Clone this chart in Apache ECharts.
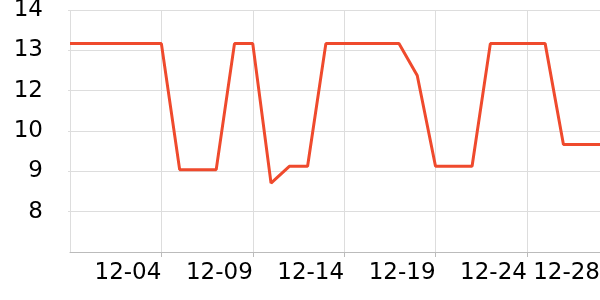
<!DOCTYPE html>
<html>
<head>
<meta charset="utf-8">
<script src="https://cdn.jsdelivr.net/npm/echarts@6/dist/echarts.min.js"></script>
<style>html,body{margin:0;padding:0;background:#fff;}#c{width:600px;height:300px;}</style>
</head>
<body>
<div id="c"></div>
<script>
const categories = ['11-29','11-30','12-01','12-02','12-03','12-04','12-05','12-06','12-07','12-08',
  '12-09','12-10','12-11','12-12','12-13','12-14','12-15','12-16','12-17','12-18',
  '12-19','12-20','12-21','12-22','12-23','12-24','12-25','12-26','12-27','12-28'];
const values = [13,13,13,13,13,13, 9.25,9.25,9.25, 13,13, 8.85, 9.35,9.35,
  13,13,13,13,13, 12.05, 9.35,9.35,9.35, 13,13,13,13, 10,10,10];
const yMin = 6.8, yMax = 14, yStep = 1.2;

const chart = echarts.init(document.getElementById('c'));
chart.setOption({
  animation: false,
  grid: {left: 70, right: 0, top: 10, bottom: 48, containLabel: false, outerBoundsMode: 'none'},
  xAxis: {
    type: 'category',
    data: categories,
    boundaryGap: false,
    axisLine: {show: true, lineStyle: {color: '#bbbbbb', width: 1}},
    axisTick: {show: true, interval: 4, length: 5, lineStyle: {color: '#bbbbbb'}},
    axisLabel: {interval: 4, align: 'right', showMinLabel: false, showMaxLabel: true,
      fontFamily: 'DejaVu Sans', fontSize: 23, color: '#000', margin: 10},
    splitLine: {show: true, interval: 4, lineStyle: {color: '#dddddd', width: 1}}
  },
  yAxis: {
    type: 'value',
    min: yMin, max: yMax, interval: yStep,
    axisLine: {show: false},
    axisTick: {show: true, length: 2, lineStyle: {color: '#dddddd'}},
    axisLabel: {showMinLabel: false, formatter: v => String(Math.round(v)),
      fontFamily: 'DejaVu Sans', fontSize: 23, color: '#000', margin: 27},
    splitLine: {show: true, lineStyle: {color: '#dddddd', width: 1}}
  },
  series: [{
    type: 'line',
    data: values,
    showSymbol: false,
    symbol: 'none',
    lineStyle: {color: '#ef4a2d', width: 3},
    itemStyle: {color: '#ef4a2d'}
  }]
});
</script>
</body>
</html>
